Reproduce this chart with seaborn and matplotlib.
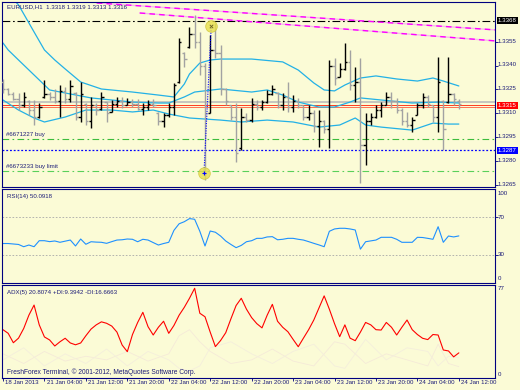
import matplotlib

matplotlib.use("Agg")
import matplotlib.pyplot as plt
import numpy as np
import pandas as pd
import seaborn as sns

sns.set_theme(style="white")
plt.rcParams["font.family"] = ["Liberation Sans", "DejaVu Sans"]

BG = "#fbfbd6"
NAVY = "#000080"
TXT = "#1c1c78"
FS = 4.4

# --- EURUSD H1 bars, 18 Jan 2013 20:00 .. 24 Jan 2013 12:00 ---
bar_open = [1.33300, 1.33250, 1.33220, 1.33190, 1.33150, 1.33180, 1.33120, 1.33080, 1.33200, 1.33220,
            1.33200, 1.33180, 1.33240, 1.33190, 1.33230, 1.33080, 1.33160, 1.33050, 1.33150, 1.33125,
            1.33170, 1.33110, 1.33160, 1.33180, 1.33155, 1.33170, 1.33160, 1.33130, 1.33140, 1.33160,
            1.33105, 1.33050, 1.33090, 1.33140, 1.33295, 1.33480, 1.33515, 1.33600, 1.33550, 1.33400,
            1.33105, 1.33500, 1.33480, 1.33250, 1.33150, 1.33080, 1.32880, 1.33080, 1.33060, 1.33160,
            1.33140, 1.33170, 1.33220, 1.33230, 1.33150, 1.33200, 1.33140, 1.33180, 1.33150, 1.33080,
            1.33100, 1.33020, 1.33050, 1.33000, 1.33400, 1.33330, 1.33380, 1.33420, 1.33280, 1.33300,
            1.32900, 1.33050, 1.33080, 1.33120, 1.33155, 1.33200, 1.33180, 1.33120, 1.33050, 1.33030,
            1.33090, 1.33150, 1.33200, 1.33150, 1.33080, 1.33180, 1.33170, 1.33220, 1.33180]
bar_high = [1.33316, 1.33259, 1.33234, 1.33228, 1.33234, 1.33184, 1.33184, 1.33165, 1.33310, 1.33234,
            1.33253, 1.33278, 1.33266, 1.33310, 1.33234, 1.33297, 1.33165, 1.33203, 1.33165, 1.33234,
            1.33171, 1.33184, 1.33203, 1.33203, 1.33197, 1.33190, 1.33190, 1.33165, 1.33184, 1.33190,
            1.33109, 1.33102, 1.33165, 1.33291, 1.33574, 1.33485, 1.33642, 1.33718, 1.33611, 1.33416,
            1.33592, 1.33668, 1.33529, 1.33259, 1.33153, 1.33165, 1.33134, 1.33102, 1.33197, 1.33184,
            1.33184, 1.33247, 1.33278, 1.33234, 1.33228, 1.33297, 1.33215, 1.33197, 1.33153, 1.33153,
            1.33121, 1.33121, 1.33058, 1.33435, 1.33448, 1.33416, 1.33542, 1.33498, 1.33391, 1.33448,
            1.33102, 1.33102, 1.33153, 1.33171, 1.33234, 1.33234, 1.33197, 1.33134, 1.33109, 1.33077,
            1.33165, 1.33228, 1.33215, 1.33153, 1.33454, 1.33184, 1.33454, 1.33228, 1.33190]
bar_low = [1.33228, 1.33215, 1.33184, 1.33121, 1.33140, 1.33090, 1.33027, 1.33071, 1.33197, 1.33184,
           1.33165, 1.33077, 1.33165, 1.33171, 1.33058, 1.33046, 1.33027, 1.33008, 1.33090, 1.33121,
           1.33046, 1.33109, 1.33140, 1.33134, 1.33153, 1.33140, 1.33121, 1.33090, 1.33121, 1.33140,
           1.33027, 1.33014, 1.33077, 1.33090, 1.33291, 1.33391, 1.33511, 1.33511, 1.33341, 1.32682,
           1.33102, 1.33448, 1.33215, 1.33153, 1.33058, 1.32795, 1.32870, 1.33046, 1.33046, 1.33121,
           1.33121, 1.33165, 1.33215, 1.33134, 1.33121, 1.33109, 1.33109, 1.33134, 1.33058, 1.33058,
           1.32983, 1.32889, 1.32977, 1.32883, 1.33278, 1.33328, 1.33372, 1.33247, 1.33171, 1.32663,
           1.32776, 1.33027, 1.33071, 1.33077, 1.33153, 1.33134, 1.33102, 1.33027, 1.33014, 1.32983,
           1.33090, 1.33134, 1.33140, 1.33046, 1.32983, 1.32870, 1.33165, 1.33153, 1.33130]
bar_close = [1.33250, 1.33220, 1.33190, 1.33150, 1.33200, 1.33120, 1.33080, 1.33140, 1.33220, 1.33200,
             1.33180, 1.33240, 1.33190, 1.33270, 1.33080, 1.33220, 1.33050, 1.33150, 1.33120, 1.33200,
             1.33100, 1.33160, 1.33180, 1.33150, 1.33170, 1.33160, 1.33130, 1.33140, 1.33160, 1.33150,
             1.33050, 1.33090, 1.33140, 1.33280, 1.33550, 1.33440, 1.33600, 1.33550, 1.33400, 1.33100,
             1.33500, 1.33480, 1.33250, 1.33180, 1.33080, 1.32850, 1.33080, 1.33060, 1.33160, 1.33140,
             1.33170, 1.33220, 1.33250, 1.33150, 1.33200, 1.33140, 1.33180, 1.33150, 1.33080, 1.33100,
             1.33020, 1.33050, 1.33000, 1.33400, 1.33320, 1.33380, 1.33420, 1.33280, 1.33300, 1.32900,
             1.33050, 1.33080, 1.33120, 1.33150, 1.33200, 1.33180, 1.33120, 1.33050, 1.33030, 1.33060,
             1.33150, 1.33200, 1.33160, 1.33080, 1.33300, 1.33000, 1.33220, 1.33190, 1.33160]

# Bollinger-style envelope (bar index, price)
upper_idx = [0, 1, 3, 6, 8, 10, 12, 15, 19, 25, 30, 33, 35, 36, 38, 40, 42, 48, 54, 57, 60, 62,
             64, 66, 69, 72, 76, 80, 83, 85, 88]
upper_band = [1.33900, 1.33850, 1.33781, 1.33611, 1.33498, 1.33435, 1.33379, 1.33297, 1.33253,
              1.33234, 1.33215, 1.33203, 1.33284, 1.33347, 1.33416, 1.33435, 1.33441, 1.33441,
              1.33423, 1.33372, 1.33291, 1.33247, 1.33241, 1.33278, 1.33322, 1.33335, 1.33316,
              1.33303, 1.33322, 1.33303, 1.33272]
middle_idx = [0, 1, 3, 6, 9, 12, 17, 25, 30, 32, 35, 37, 42, 48, 51, 54, 57, 61, 64, 67, 69, 73,
              79, 84, 88]
middle_band = [1.33542, 1.33498, 1.33435, 1.33341, 1.33247, 1.33228, 1.33197, 1.33171, 1.33165,
               1.33165, 1.33203, 1.33234, 1.33253, 1.33234, 1.33247, 1.33215, 1.33171, 1.33140,
               1.33140, 1.33171, 1.33197, 1.33184, 1.33165, 1.33171, 1.33165]
lower_idx = [0, 3, 6, 8, 12, 16, 21, 25, 29, 32, 36, 42, 46, 51, 56, 61, 65, 68, 70, 73, 79, 83,
             86, 88]
lower_band = [1.33184, 1.33121, 1.33071, 1.33046, 1.33077, 1.33121, 1.33121, 1.33109, 1.33121,
              1.33096, 1.33071, 1.33058, 1.33046, 1.33058, 1.33046, 1.33014, 1.33027, 1.33071,
              1.33027, 1.33014, 1.32995, 1.33039, 1.33033, 1.33033]

# trend lines (bar index, price)
trend1_idx = [18.1, 95]
trend1 = [1.33793, 1.33624]
trend2_idx = [26.4, 95]
trend2 = [1.33730, 1.33555]

# levels
tp_level = 1.3368
bid_level = 1.33170
order_level = 1.33150
buy_level = 1.3294
limit_level = 1.3274
blue_level = 1.3287
trade_idx = [38.8, 40.2]
trade_price = [1.32726, 1.33649]

rsi = [42, 42, 41.5, 41, 38.6, 40.4, 38.6, 45, 45, 44,
       44.7, 43.3, 44.5, 45.7, 39.4, 46.8, 41.2, 43.9, 43.5, 43.3,
       42.2, 44, 45.7, 46, 46.8, 46.5, 43.9, 46.5, 45.7, 43,
       40.4, 42, 43.3, 56, 63, 65.2, 68.5, 67.8, 55, 39.4,
       55.3, 54, 50, 44.7, 41, 37.6, 40, 43.9, 45, 47.5,
       47.5, 49, 49.3, 46, 46.5, 47.5, 47.5, 46.5, 45.7, 44,
       42.2, 40.5, 38.6, 55, 57.5, 58.2, 58.2, 57.5, 56.4, 36,
       43.9, 44.8, 45.7, 48.6, 48.6, 48.6, 46.5, 43.3, 43.3, 43.3,
       48.6, 48.4, 47.5, 46.5, 59.9, 43.3, 50, 49, 50.09]
adx = [40, 37, 29.2, 33, 41, 52, 60.4, 44, 34, 31.5,
       26.5, 30, 32.9, 29, 27.5, 29, 35, 40.5, 44, 46.5,
       45.3, 43, 38, 27.3, 21.8, 36, 46, 54.4, 42.5, 35.6,
       42, 47, 37, 43.5, 52, 58.5, 66, 74.3, 53.6, 50.7,
       38, 26, 31, 37.5, 49, 60, 66, 57, 50, 45,
       41.5, 52, 61, 47, 42, 38.3, 32, 25.9, 33, 40,
       48, 58, 68, 57, 45, 34.2, 44, 33, 30.9, 38,
       46, 44, 40, 39.7, 46, 42, 35.6, 42, 48, 40,
       36, 32.9, 31.8, 36, 35.6, 23.2, 22.4, 17.5, 20.81]
di_idx = [0, 4, 8, 12, 16, 20, 24, 28, 32, 34, 36, 38, 40, 44, 48, 52, 56, 60, 64, 66,
          70, 74, 78, 82, 84, 86, 88]
di_plus = [20, 12, 22, 14, 18, 15, 22, 14, 20, 35, 40, 30, 22, 12, 15, 24, 14, 10, 30, 28,
           12, 20, 15, 10, 28, 12, 9.39]
di_minus = [15, 25, 10, 20, 12, 24, 10, 22, 15, 8, 6, 10, 25, 30, 20, 12, 22, 28, 10, 8,
            32, 15, 25, 22, 10, 18, 16.67]

price_ticks = [1.3355, 1.3340, 1.3325, 1.3310, 1.3295, 1.3280, 1.3265]
time_idx = [0, 8, 16, 24, 32, 40, 48, 56, 64, 72, 80, 88]
time_labels = ["18 Jan 2013", "21 Jan 04:00", "21 Jan 12:00", "21 Jan 20:00", "22 Jan 04:00",
               "22 Jan 12:00", "22 Jan 20:00", "23 Jan 04:00", "23 Jan 12:00", "23 Jan 20:00",
               "24 Jan 04:00", "24 Jan 12:00"]

XLIM = (-0.19, 94.98)


def _frame(ax):
    ax.set_facecolor(BG)
    for s in ax.spines.values():
        s.set_color(NAVY)
        s.set_linewidth(0.8)
    ax.set_xlim(*XLIM)
    ax.set_xlabel("")
    ax.set_ylabel("")
    ax.tick_params(axis="both", which="both", length=0, labelbottom=False, labelleft=False)


def _rlabel(ax, y, text, va="center", **kw):
    ax.text(1.006, y, text, transform=ax.get_yaxis_transform(), fontsize=FS, color=kw.pop("color", TXT),
            va=va, ha="left", **kw)


fig = plt.figure(figsize=(5.2, 3.9), dpi=100, facecolor=BG)
ax = fig.add_axes([2 / 520, 1 - 187 / 390, 493 / 520, 185 / 390])
ax_rsi = fig.add_axes([2 / 520, 1 - 283 / 390, 493 / 520, 94 / 390])
ax_adx = fig.add_axes([2 / 520, 1 - 378 / 390, 493 / 520, 93 / 390])

# ---------------- main price window ----------------
bars = pd.DataFrame({"x": np.arange(len(bar_open)), "open": bar_open, "high": bar_high,
                     "low": bar_low, "close": bar_close})
colors = np.where(bars["close"] >= bars["open"], "black", "#a2a2a2")

for idx, vals in ((trend1_idx, trend1), (trend2_idx, trend2)):
    ax.plot(idx, vals, color="#f6b8ec", lw=1.0, zorder=1)
    ax.plot(idx, vals, color="#ff00ff", lw=1.0, ls=(0, (4, 3)), zorder=1.1)

ax.axhline(tp_level, color="black", lw=0.8, ls=(0, (7, 2.5, 1.5, 2.5)), zorder=1)
ax.axhline(buy_level, color="#3cbc3c", lw=0.8, ls=(0, (6, 3, 1.5, 3)), zorder=1)
ax.axhline(limit_level, color="#5ad05a", lw=0.8, ls=(0, (6, 3, 1.5, 3)), zorder=1)
ax.axhline(blue_level, color="#0000ff", lw=0.9, ls=(0, (1.5, 1.5)), zorder=1)
ax.axhline(bid_level, color="#b8b8b8", lw=1.1, zorder=1)
ax.axhline(order_level, color="#ff3a20", lw=0.7, zorder=1.2)
ax.axhline(order_level - 0.0001, color="#ff3a20", lw=0.5, zorder=1.2)

for idx, vals in ((upper_idx, upper_band), (middle_idx, middle_band), (lower_idx, lower_band)):
    sns.lineplot(x=idx, y=vals, ax=ax, color="#23b1e6", lw=0.9, zorder=2)

ax.vlines(bars["x"], bars["low"], bars["high"], colors=colors, lw=1.0, zorder=3)
ax.hlines(bars["open"], bars["x"] - 0.45, bars["x"], colors=colors, lw=1.0, zorder=3)
ax.hlines(bars["close"], bars["x"], bars["x"] + 0.45, colors=colors, lw=1.0, zorder=3)

ax.plot(trade_idx, trade_price, color="#0000ff", lw=0.8, ls=(0, (1, 1.2)), zorder=4)
ax.scatter(trade_idx, trade_price, s=70, color="#e8e04c", alpha=0.8, edgecolor="#cfc63a",
           lw=0.6, zorder=5)
ax.scatter(trade_idx[:1], trade_price[:1], s=10, marker="+", color="#0000ff", lw=0.8, zorder=6)
ax.scatter(trade_idx[1:], trade_price[1:], s=6, marker="x", color="#6a6020", lw=0.6, zorder=6)

_frame(ax)
ax.set_ylim(1.32638, 1.33799)
ax.set_yticks(price_ticks)
ax.tick_params(axis="y", right=True, length=2, width=0.6, color=NAVY, direction="out")
for p in price_ticks:
    _rlabel(ax, p + 0.00004, f"{p:.4f}")
_rlabel(ax, tp_level, f"{tp_level:.4f}", color="white",
        bbox=dict(facecolor="black", edgecolor="none", pad=0.7))
_rlabel(ax, 1.3315, "1.3315", color="white",
        bbox=dict(facecolor="#ff0000", edgecolor="none", pad=0.7))
_rlabel(ax, blue_level, f"{blue_level:.4f}", color="white",
        bbox=dict(facecolor="#0000ff", edgecolor="none", pad=0.7))

ax.text(0.01, 0.985, "EURUSD,H1  1.3318 1.3319 1.3313 1.3316", transform=ax.transAxes,
        fontsize=FS, color=TXT, va="top", ha="left")
ax.annotate("#6671227 buy", xy=(0.008, buy_level), xycoords=("axes fraction", "data"),
            xytext=(0, 1.5), textcoords="offset points", fontsize=FS, color=TXT, va="bottom")
ax.annotate("#6673233 buy limit", xy=(0.008, limit_level), xycoords=("axes fraction", "data"),
            xytext=(0, 1.5), textcoords="offset points", fontsize=FS, color=TXT, va="bottom")

# ---------------- RSI window ----------------
x_all = np.arange(len(rsi))
ax_rsi.axhline(70, color="#a8a8a8", lw=0.6, ls=(0, (2, 2)))
ax_rsi.axhline(30, color="#a8a8a8", lw=0.6, ls=(0, (2, 2)))
sns.lineplot(x=x_all, y=rsi, ax=ax_rsi, color="#1e90ff", lw=0.8)
_frame(ax_rsi)
ax_rsi.set_ylim(0, 100)
ax_rsi.set_yticks([70, 30])
ax_rsi.tick_params(axis="y", right=True, length=2, width=0.6, color=NAVY, direction="out")
_rlabel(ax_rsi, 98, "100", va="top")
_rlabel(ax_rsi, 70, "70")
_rlabel(ax_rsi, 30, "30")
_rlabel(ax_rsi, 2, "0", va="bottom")
ax_rsi.text(0.01, 0.95, "RSI(14) 50.0918", transform=ax_rsi.transAxes, fontsize=FS, color=TXT,
            va="top", ha="left")

# ---------------- ADX window ----------------
sns.lineplot(x=di_idx, y=di_plus, ax=ax_adx, color="#f5ead8", lw=0.6)
sns.lineplot(x=di_idx, y=di_minus, ax=ax_adx, color="#f4eedc", lw=0.6)
sns.lineplot(x=x_all, y=adx, ax=ax_adx, color="#ff0000", lw=0.8)
_frame(ax_adx)
ax_adx.set_ylim(0, 77)
_rlabel(ax_adx, 76, "77", va="top")
_rlabel(ax_adx, 1, "0", va="bottom")
ax_adx.text(0.01, 0.95, "ADX(5) 20.8074 +DI:9.3942 -DI:16.6663", transform=ax_adx.transAxes,
            fontsize=FS, color=TXT, va="top", ha="left")
ax_adx.text(0.01, 0.025, "FreshForex Terminal, \u00a9 2001-2012, MetaQuotes Software Corp.",
            transform=ax_adx.transAxes, fontsize=FS + 0.4, color=TXT, va="bottom", ha="left")
ax_adx.set_xticks(time_idx)
ax_adx.tick_params(axis="x", bottom=True, length=2.5, width=0.6, color=NAVY, direction="out")
for i, lab in zip(time_idx, time_labels):
    ax_adx.annotate(lab, xy=(i, 0), xycoords=("data", "axes fraction"), xytext=(1.5, -1.8),
                    textcoords="offset points", fontsize=FS, color=TXT, ha="left", va="top",
                    annotation_clip=False)

fig.savefig("out.png", dpi=100, facecolor=BG)
